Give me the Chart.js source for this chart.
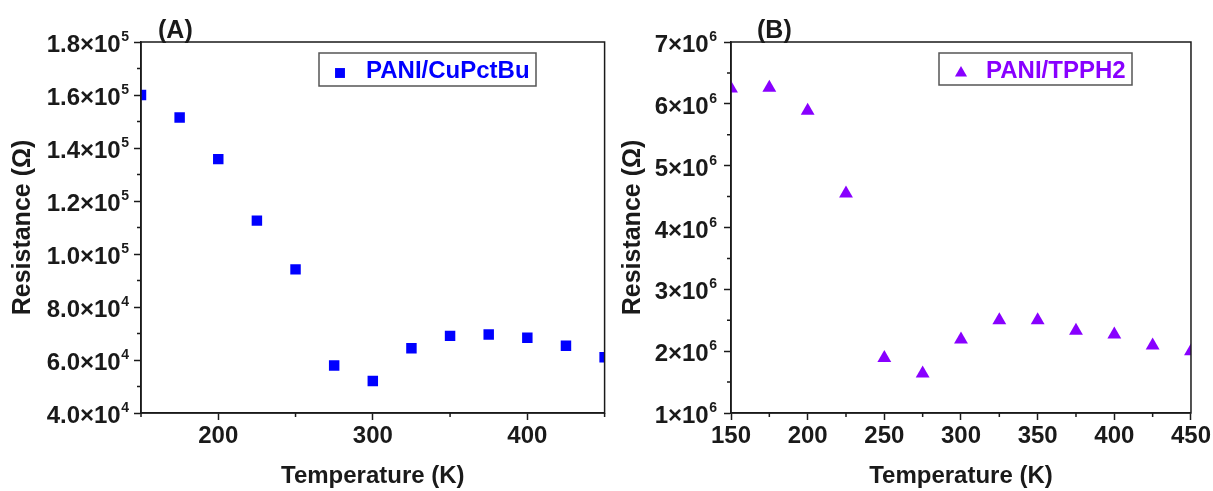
<!DOCTYPE html>
<html>
<head>
<meta charset="utf-8">
<script src="https://cdn.jsdelivr.net/npm/chart.js@4.4.0/dist/chart.umd.min.js"></script>
<style>
  html, body { margin: 0; padding: 0; background: #fff; }
  body { width: 1213px; height: 491px; position: relative; overflow: hidden; }
  .panel { position: absolute; top: 0; height: 491px; }
  #boxA { left: 0; width: 612px; }
  #boxB { left: 606px; width: 607px; }
</style>
</head>
<body>
<div class="panel" id="boxA"><canvas id="chartA"></canvas></div>
<div class="panel" id="boxB"><canvas id="chartB"></canvas></div>
<script>
// temperatures (K) shared by both samples
const temps = [150, 175, 200, 225, 250, 275, 300, 325, 350, 375, 400, 425, 450];
// resistance (ohm)
const cuPctBu = [160000, 151500, 135800, 112600, 94200, 57900, 52100, 64400, 69100, 69600, 68400, 65400, 61000];
const tpph2 = [6.25e6, 6.26e6, 5.89e6, 4.55e6, 1.89e6, 1.64e6, 2.19e6, 2.50e6, 2.50e6, 2.33e6, 2.27e6, 2.09e6, 2.00e6];

const FONT = "'Liberation Sans', Arial, sans-serif";
const INK = '#1a1a1a';

// split a value into mantissa text and exponent, e.g. 180000 -> ['1.8×10', '5']
function sciParts(v, digits) {
  const exp = Math.floor(Math.log10(v) + 1e-9);
  const mant = (v / Math.pow(10, exp)).toFixed(digits);
  return [mant + '×10', String(exp)];
}

// short ticks between the labelled ones, y labels with raised exponents,
// frame, legend box and panel letter
const decor = {
  id: 'decor',
  afterDraw(chart, args, opts) {
    const ctx = chart.ctx;
    const a = chart.chartArea;
    const xs = chart.scales.x, ys = chart.scales.y;
    ctx.save();
    ctx.strokeStyle = INK;
    ctx.lineWidth = 1.5;
    ctx.strokeRect(a.left, a.top, a.right - a.left, a.bottom - a.top);

    ctx.beginPath();
    xs.ticks.forEach(t => {
      if (opts.xMajor(t.value)) return;
      const px = xs.getPixelForValue(t.value);
      ctx.moveTo(px, a.bottom);
      ctx.lineTo(px, a.bottom + 4);
    });
    ys.ticks.forEach(t => {
      if (opts.yMajor(t.value)) return;
      const py = ys.getPixelForValue(t.value);
      ctx.moveTo(a.left, py);
      ctx.lineTo(a.left - 4, py);
    });
    ctx.stroke();

    // y tick labels
    ctx.fillStyle = INK;
    ctx.textAlign = 'right';
    ctx.textBaseline = 'alphabetic';
    const right = a.left - opts.labelGap;
    ys.ticks.forEach(t => {
      if (!opts.yMajor(t.value)) return;
      const py = ys.getPixelForValue(t.value);
      const [mant, exp] = sciParts(t.value, opts.digits);
      ctx.font = 'bold 14px ' + FONT;
      const ew = ctx.measureText(exp).width;
      ctx.fillText(exp, right, py - 1);
      ctx.font = 'bold 24px ' + FONT;
      ctx.fillText(mant, right - ew - 0.5, py + 10);
    });

    // legend
    const lg = opts.legend;
    const ds = chart.data.datasets[0];
    ctx.strokeStyle = '#555';
    ctx.lineWidth = 1.5;
    ctx.strokeRect(lg.x, lg.y, lg.w, lg.h);
    ctx.fillStyle = ds.backgroundColor;
    Chart.helpers.drawPoint(ctx, { pointStyle: ds.pointStyle, radius: lg.r, rotation: 0, borderWidth: 0 }, lg.mx, lg.y + 20);
    ctx.font = 'bold 24px ' + FONT;
    ctx.textAlign = 'left';
    ctx.fillText(ds.label, lg.tx, lg.y + 25);

    // panel letter
    ctx.fillStyle = INK;
    ctx.font = 'bold 25px ' + FONT;
    ctx.textBaseline = 'middle';
    ctx.fillText(opts.letter, opts.letterX, 31);
    ctx.restore();
  }
};

function panel(id, cfg) {
  return new Chart(document.getElementById(id), {
    type: 'scatter',
    data: {
      datasets: [{
        label: cfg.label,
        data: temps.map((t, i) => ({ x: t, y: cfg.values[i] })),
        pointStyle: cfg.pointStyle,
        pointRadius: cfg.radius,
        backgroundColor: cfg.color,
        borderColor: cfg.color,
        borderWidth: 0
      }]
    },
    options: {
      responsive: true,
      maintainAspectRatio: false,
      animation: false,
      events: [],
      layout: { padding: { left: 0, top: 42, right: cfg.padRight, bottom: 0 } },
      plugins: {
        legend: { display: false },
        tooltip: { enabled: false },
        decor: cfg.decor
      },
      scales: {
        x: {
          type: 'linear',
          min: 150, max: 450,
          afterFit: s => { s.height = 78; },
          border: { color: INK, width: 1.5 },
          grid: {
            drawOnChartArea: false,
            tickLength: 7,
            tickWidth: 1.5,
            tickColor: c => cfg.decor.xMajor(c.tick.value) ? INK : 'rgba(0,0,0,0)'
          },
          ticks: {
            stepSize: cfg.xStep,
            padding: 2,
            color: INK,
            maxRotation: 0,
            autoSkip: false,
            font: { family: FONT, size: 24, weight: 'bold' },
            callback: v => cfg.decor.xMajor(v) && cfg.xLabelled(v) ? String(v) : ''
          },
          title: {
            display: true,
            text: 'Temperature (K)',
            color: INK,
            padding: { top: 0, bottom: 0 },
            font: { family: FONT, size: 24, weight: 'bold' }
          }
        },
        y: {
          min: cfg.yMin, max: cfg.yMax,
          afterFit: s => { s.width = cfg.yWidth; },
          border: { color: INK, width: 1.5 },
          grid: {
            drawOnChartArea: false,
            tickLength: 7,
            tickWidth: 1.5,
            tickColor: c => cfg.decor.yMajor(c.tick.value) ? INK : 'rgba(0,0,0,0)'
          },
          ticks: {
            stepSize: cfg.yStep,
            autoSkip: false,
            callback: () => ''
          },
          title: {
            display: true,
            text: 'Resistance (Ω)',
            color: INK,
            padding: { top: cfg.titlePad, bottom: 0 },
            font: { family: FONT, size: 25, weight: 'bold' }
          }
        }
      }
    },
    plugins: [decor]
  });
}

panel('chartA', {
  label: 'PANI/CuPctBu',
  values: cuPctBu,
  pointStyle: 'rect',
  radius: 7.4,
  color: '#0000ff',
  padRight: 3,
  yWidth: 141,
  titlePad: 8,
  xStep: 50,
  yMin: 40000, yMax: 180000, yStep: 10000,
  xLabelled: v => v !== 450,
  decor: {
    xMajor: v => v % 100 === 0,
    yMajor: v => Math.round(v) % 20000 === 0,
    digits: 1, labelGap: 12,
    letter: '(A)', letterX: 158,
    legend: { x: 319, y: 53, w: 217, h: 33, r: 7, mx: 340, tx: 366 }
  }
});

panel('chartB', {
  label: 'PANI/TPPH2',
  values: tpph2,
  pointStyle: 'triangle',
  radius: 8,
  color: '#8800ff',
  padRight: 20,
  yWidth: 125,
  titlePad: 12,
  xStep: 25,
  yMin: 1e6, yMax: 7e6, yStep: 5e5,
  xLabelled: v => true,
  decor: {
    xMajor: v => v % 50 === 0,
    yMajor: v => Math.round(v) % 1000000 === 0,
    digits: 0, labelGap: 14,
    letter: '(B)', letterX: 151,
    legend: { x: 333, y: 53, w: 193, h: 32, r: 7, mx: 355, tx: 380 }
  }
});
</script>
</body>
</html>
